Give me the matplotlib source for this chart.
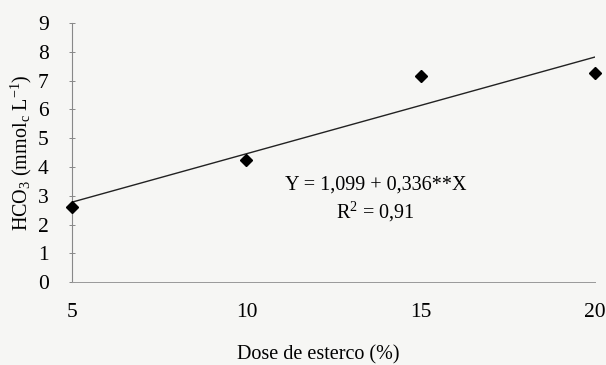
import numpy as np
import matplotlib
matplotlib.use("Agg")
import matplotlib.pyplot as plt

plt.rcParams["font.family"] = ["Liberation Serif", "DejaVu Serif"]
plt.rcParams["mathtext.fontset"] = "custom"
plt.rcParams["mathtext.rm"] = "Liberation Serif"
plt.rcParams["mathtext.it"] = "Liberation Serif:italic"

# ---- DATA ---------------------------------------------------------------
dose = [5, 10, 15, 20]
hco3 = [2.6, 4.25, 7.17, 7.25]
intercept = 1.099
slope = 0.336
x_ticks = [5, 10, 15, 20]
y_ticks = list(range(0, 10))

# ---- PLOT ---------------------------------------------------------------
fig = plt.figure(figsize=(6.06, 3.65), dpi=100, facecolor="#f6f6f4")
ax = fig.add_axes([0.119, 0.227, 0.863, 0.71])
ax.set_facecolor("#f6f6f4")

fit_x = np.array([min(dose), max(dose)])
ax.plot(fit_x, intercept + slope * fit_x, color="#222222", lw=1.0, zorder=2)
ax.plot(dose, hco3, "D", color="black", ms=6, zorder=3, clip_on=False)

ax.set_xlim(5, 20)
ax.set_ylim(0, 9)
ax.set_xticks(x_ticks)
ax.set_yticks(y_ticks)
ax.tick_params(axis="x", length=0, pad=15, labelsize=15.5)
ax.tick_params(axis="y", direction="inout", length=4, width=0.6,
               color="#777777", pad=15, labelsize=15.5)

for side in ["top", "right"]:
    ax.spines[side].set_visible(False)
ax.spines["left"].set_color("#888888")
ax.spines["left"].set_linewidth(0.8)
ax.spines["bottom"].set_color("#999999")
ax.spines["bottom"].set_linewidth(0.7)
ax.spines["bottom"].set_linestyle((0, (2, 1)))

ax.set_xlabel("Dose de esterco (%)", fontsize=14.5)
ax.xaxis.set_label_coords(0.47, -0.245)
ax.set_ylabel(r"HCO$_3$ (mmol$_\mathrm{c}$ L$^{-1}$)", fontsize=14.5)
ax.yaxis.set_label_coords(-0.072, 0.5)

ax.text(13.7, 3.37, "Y = 1,099 + 0,336**X", ha="center", va="center", fontsize=14.5)
ax.text(13.7, 2.43, "R$^2$ = 0,91", ha="center", va="center", fontsize=14.5)

fig.savefig("out.png", dpi=100, facecolor=fig.get_facecolor())
